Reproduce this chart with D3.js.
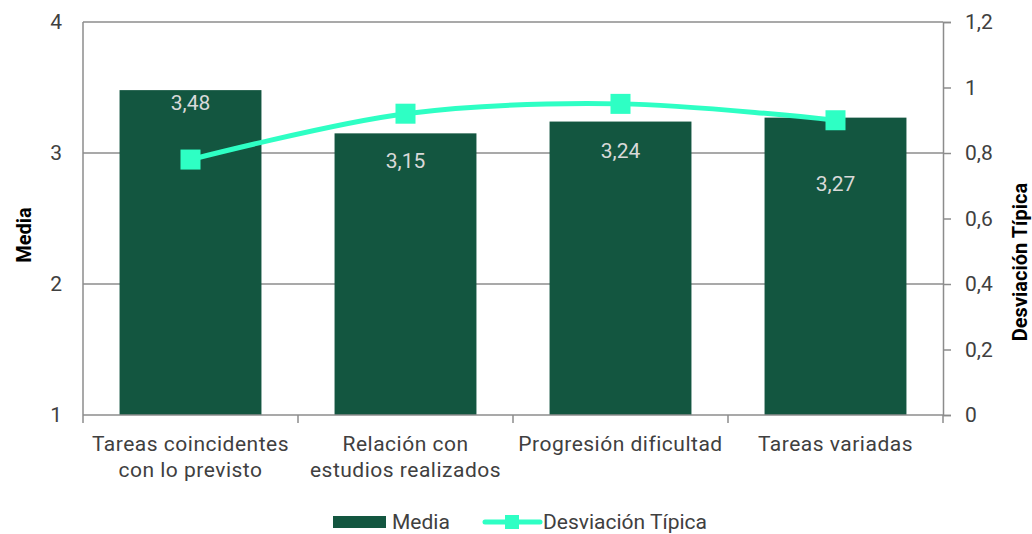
<!DOCTYPE html>
<html>
<head>
<meta charset="utf-8">
<script src="https://cdn.jsdelivr.net/npm/d3@7"></script>
<style>
  body { margin: 0; background: #fff; }
  text { font-family: Roboto, "Noto Sans", sans-serif; }
</style>
</head>
<body>
<svg id="chart" width="1032" height="534"></svg>
<script>
const categories = [
    ["Tareas coincidentes", "con lo previsto"],
    ["Relación con", "estudios realizados"],
    ["Progresión dificultad"],
    ["Tareas variadas"],
];
const media = [3.48, 3.15, 3.24, 3.27];
const desviacion = [0.78, 0.92, 0.95, 0.9];
const leftTicks = [1, 2, 3, 4];
const rightTicks = [0, 0.2, 0.4, 0.6, 0.8, 1, 1.2];

// label nudges (px below bar top), like the original chart
const labelDy = [13, 27, 29, 66];

const margin = { top: 22, right: 89, bottom: 119, left: 83 };
const width = 1032 - margin.left - margin.right;
const height = 534 - margin.top - margin.bottom;
const fontSize = 21;
const textColor = "#404040";

const svg = d3.select("#chart");
const chart = svg.append("g").attr("transform", `translate(${margin.left}, ${margin.top})`);

const xScale = d3.scaleBand().domain(d3.range(categories.length)).range([0, width]);
const yLeft = d3.scaleLinear().domain([1, 4]).range([height, 0]);
const yRight = d3.scaleLinear().domain([0, 1.2]).range([height, 0]);
const fmt = (v) => String(v).replace(".", ",");

// grid
chart.append("g")
    .selectAll("line")
    .data(leftTicks.slice(1))
    .enter()
    .append("line")
    .attr("x1", 0)
    .attr("x2", width)
    .attr("y1", (d) => yLeft(d))
    .attr("y2", (d) => yLeft(d))
    .attr("stroke", "#8c8c8c")
    .attr("stroke-width", 1.5);

// bars
const barW = xScale.bandwidth() * 0.66;
chart.selectAll(".bar")
    .data(media)
    .enter()
    .append("rect")
    .attr("x", (d, i) => xScale(i) + (xScale.bandwidth() - barW) / 2)
    .attr("y", (d) => yLeft(d))
    .attr("width", barW)
    .attr("height", (d) => height - yLeft(d))
    .attr("fill", "#135640");

chart.selectAll(".lbl")
    .data(media)
    .enter()
    .append("text")
    .attr("x", (d, i) => xScale(i) + xScale.bandwidth() / 2)
    .attr("y", (d, i) => yLeft(d) + labelDy[i])
    .attr("dy", "0.35em")
    .attr("text-anchor", "middle")
    .attr("fill", "#d9d9d9")
    .attr("font-size", fontSize)
    .text((d) => fmt(d));

// axes
const axisColor = "#8c8c8c";
chart.append("line").attr("x1", 0).attr("x2", 0).attr("y1", 0).attr("y2", height)
    .attr("stroke", axisColor).attr("stroke-width", 1.5);

const rightAxis = chart.append("g")
    .attr("transform", `translate(${width}, 0)`)
    .call(d3.axisRight(yRight).tickValues(rightTicks).tickSize(8).tickPadding(14).tickFormat(fmt));
rightAxis.select(".domain").attr("stroke", axisColor).attr("stroke-width", 1.5);
rightAxis.selectAll(".tick line").attr("stroke", axisColor).attr("stroke-width", 1.5);
rightAxis.selectAll("text").attr("font-size", fontSize).attr("fill", textColor).attr("font-family", "Roboto");

const bottomAxis = chart.append("g")
    .attr("transform", `translate(0, ${height})`);
bottomAxis.append("line").attr("x1", 0).attr("x2", width)
    .attr("stroke", axisColor).attr("stroke-width", 1.5);
bottomAxis.selectAll(".sep")
    .data(d3.range(categories.length + 1))
    .enter()
    .append("line")
    .attr("x1", (d) => d * xScale.step())
    .attr("x2", (d) => d * xScale.step())
    .attr("y1", 0)
    .attr("y2", 8)
    .attr("stroke", axisColor)
    .attr("stroke-width", 1.5);

bottomAxis.selectAll(".cat")
    .data(categories)
    .enter()
    .append("text")
    .attr("x", (d, i) => xScale(i) + xScale.bandwidth() / 2)
    .attr("y", 36)
    .attr("text-anchor", "middle")
    .attr("fill", textColor)
    .attr("font-size", fontSize)
    .attr("letter-spacing", 0.5)
    .selectAll("tspan")
    .data((d) => d)
    .enter()
    .append("tspan")
    .attr("x", function () { return this.parentNode.getAttribute("x"); })
    .attr("dy", (d, i) => (i === 0 ? 0 : 26))
    .text((d) => d);

chart.append("g")
    .selectAll("text")
    .data(leftTicks)
    .enter()
    .append("text")
    .attr("x", -21)
    .attr("y", (d) => yLeft(d))
    .attr("dy", "0.35em")
    .attr("text-anchor", "end")
    .attr("fill", textColor)
    .attr("font-size", fontSize)
    .text((d) => d);

// line series
const line = d3.line()
    .x((d, i) => xScale(i) + xScale.bandwidth() / 2)
    .y((d) => yRight(d))
    .curve(d3.curveCatmullRom.alpha(0.5));

chart.append("path")
    .attr("d", line(desviacion))
    .attr("fill", "none")
    .attr("stroke", "#2effc4")
    .attr("stroke-width", 5)
    .attr("stroke-linecap", "round");

chart.selectAll(".mk")
    .data(desviacion)
    .enter()
    .append("rect")
    .attr("x", (d, i) => xScale(i) + xScale.bandwidth() / 2 - 10)
    .attr("y", (d) => yRight(d) - 10)
    .attr("width", 20)
    .attr("height", 20)
    .attr("fill", "#2effc4");

// axis titles
svg.append("text")
    .attr("transform", "translate(24, 235) rotate(-90)")
    .attr("text-anchor", "middle")
    .attr("dy", "0.35em")
    .attr("font-family", "Arial, 'Liberation Sans', sans-serif")
    .attr("font-weight", "bold")
    .attr("font-size", 20)
    .attr("fill", "#000")
    .text("Media");

svg.append("text")
    .attr("transform", "translate(1020, 262) rotate(-90)")
    .attr("text-anchor", "middle")
    .attr("dy", "0.35em")
    .attr("font-family", "Arial, 'Liberation Sans', sans-serif")
    .attr("font-weight", "bold")
    .attr("font-size", 20)
    .attr("fill", "#000")
    .text("Desviación Típica");

// legend
const legend = svg.append("g").attr("transform", "translate(0, 522)");
legend.append("rect").attr("x", 333).attr("y", -6).attr("width", 53).attr("height", 12).attr("fill", "#135640");
legend.append("text").attr("x", 392).attr("dy", "0.35em").attr("font-size", fontSize).attr("fill", textColor).text("Media");
legend.append("line").attr("x1", 485).attr("x2", 540).attr("stroke", "#2effc4").attr("stroke-width", 5).attr("stroke-linecap", "round");
legend.append("rect").attr("x", 505).attr("y", -7).attr("width", 14).attr("height", 14).attr("fill", "#2effc4");
legend.append("text").attr("x", 543).attr("dy", "0.35em").attr("font-size", fontSize).attr("fill", textColor).text("Desviación Típica");
</script>
</body>
</html>
